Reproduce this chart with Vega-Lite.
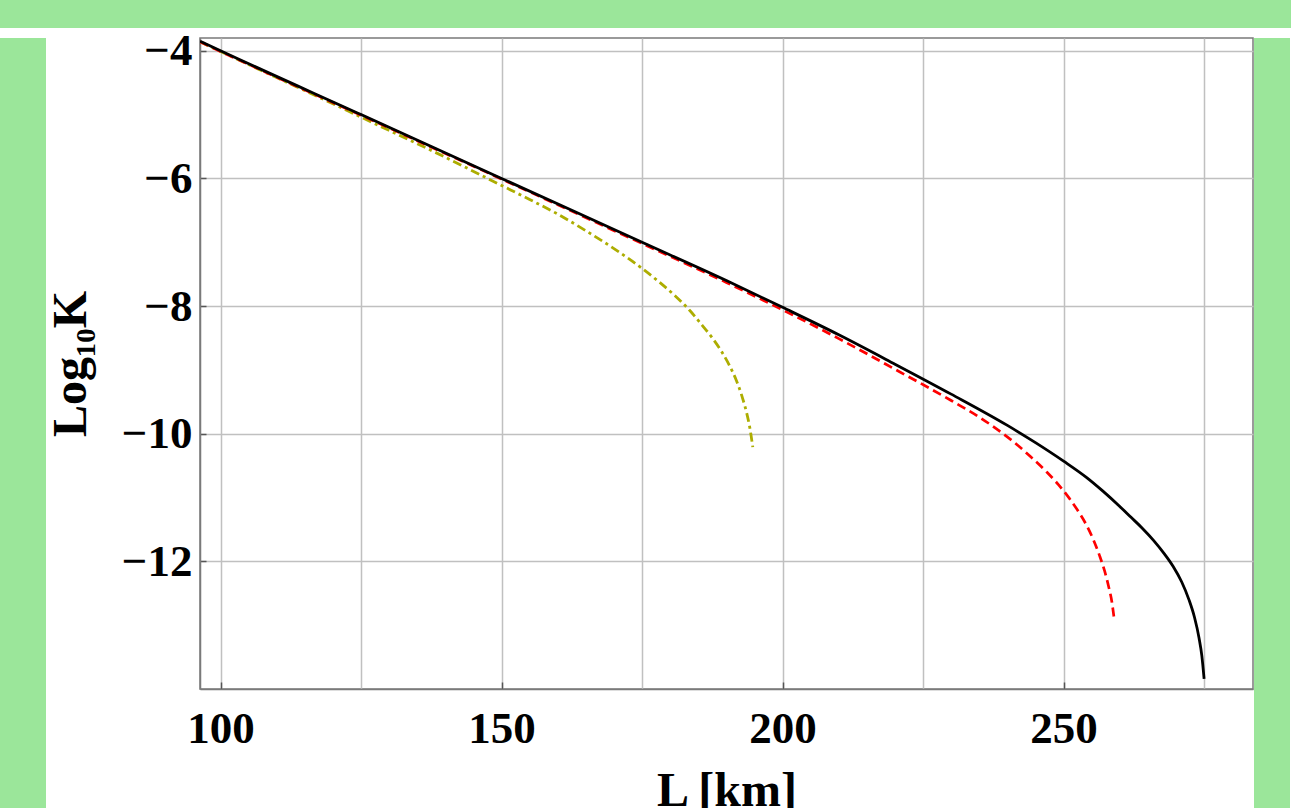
{
  "$schema": "https://vega.github.io/schema/vega-lite/v6.json",
  "background": "white",
  "padding": 0,
  "spacing": 0,
  "config": {
    "axis": {
      "labelFont": "Liberation Serif",
      "labelFontWeight": "bold",
      "labelFontSize": 45,
      "labelColor": "black",
      "titleFont": "Liberation Serif",
      "titleFontWeight": "bold",
      "titleFontSize": 48,
      "titleColor": "black",
      "tickColor": "#555555",
      "tickWidth": 1.5,
      "gridColor": "#c0c0c0",
      "gridWidth": 1.5,
      "domainColor": "#7a7a7a",
      "domainWidth": 1.5,
      "labelOverlap": false
    }
  },
  "data": {
    "values": [
      {"curve": "black", "L": 96.35, "logK": -3.85},
      {"curve": "black", "L": 100, "logK": -4.0},
      {"curve": "black", "L": 125, "logK": -5.0},
      {"curve": "black", "L": 150, "logK": -6.0},
      {"curve": "black", "L": 175, "logK": -7.0},
      {"curve": "black", "L": 190, "logK": -7.6},
      {"curve": "black", "L": 200, "logK": -8.02},
      {"curve": "black", "L": 210, "logK": -8.45},
      {"curve": "black", "L": 220, "logK": -8.91},
      {"curve": "black", "L": 230, "logK": -9.38},
      {"curve": "black", "L": 240, "logK": -9.87},
      {"curve": "black", "L": 245, "logK": -10.14},
      {"curve": "black", "L": 250, "logK": -10.43},
      {"curve": "black", "L": 254, "logK": -10.68},
      {"curve": "black", "L": 257, "logK": -10.9},
      {"curve": "black", "L": 260, "logK": -11.14},
      {"curve": "black", "L": 262, "logK": -11.31},
      {"curve": "black", "L": 264, "logK": -11.48},
      {"curve": "black", "L": 266, "logK": -11.67},
      {"curve": "black", "L": 268, "logK": -11.89},
      {"curve": "black", "L": 269.5, "logK": -12.08},
      {"curve": "black", "L": 271, "logK": -12.32},
      {"curve": "black", "L": 272.3, "logK": -12.6},
      {"curve": "black", "L": 273.3, "logK": -12.88},
      {"curve": "black", "L": 274.1, "logK": -13.2},
      {"curve": "black", "L": 274.6, "logK": -13.48},
      {"curve": "black", "L": 275.0, "logK": -13.84},
      {"curve": "red", "L": 96.35, "logK": -3.86},
      {"curve": "red", "L": 100, "logK": -4.01},
      {"curve": "red", "L": 125, "logK": -5.01},
      {"curve": "red", "L": 150, "logK": -6.01},
      {"curve": "red", "L": 175, "logK": -7.02},
      {"curve": "red", "L": 190, "logK": -7.63},
      {"curve": "red", "L": 200, "logK": -8.06},
      {"curve": "red", "L": 210, "logK": -8.51},
      {"curve": "red", "L": 220, "logK": -8.99},
      {"curve": "red", "L": 230, "logK": -9.48},
      {"curve": "red", "L": 235, "logK": -9.74},
      {"curve": "red", "L": 238, "logK": -9.92},
      {"curve": "red", "L": 241, "logK": -10.12},
      {"curve": "red", "L": 244, "logK": -10.35},
      {"curve": "red", "L": 247, "logK": -10.6},
      {"curve": "red", "L": 249, "logK": -10.79},
      {"curve": "red", "L": 251, "logK": -11.01},
      {"curve": "red", "L": 252.5, "logK": -11.2},
      {"curve": "red", "L": 254, "logK": -11.42},
      {"curve": "red", "L": 255.3, "logK": -11.66},
      {"curve": "red", "L": 256.4, "logK": -11.91},
      {"curve": "red", "L": 257.3, "logK": -12.15},
      {"curve": "red", "L": 258.0, "logK": -12.39},
      {"curve": "red", "L": 258.6, "logK": -12.64},
      {"curve": "red", "L": 259.0, "logK": -12.9},
      {"curve": "olive", "L": 96.35, "logK": -3.86},
      {"curve": "olive", "L": 100, "logK": -4.01},
      {"curve": "olive", "L": 110, "logK": -4.42},
      {"curve": "olive", "L": 120, "logK": -4.83},
      {"curve": "olive", "L": 125, "logK": -5.04},
      {"curve": "olive", "L": 137.7, "logK": -5.57},
      {"curve": "olive", "L": 150, "logK": -6.11},
      {"curve": "olive", "L": 155, "logK": -6.33},
      {"curve": "olive", "L": 160, "logK": -6.56},
      {"curve": "olive", "L": 165, "logK": -6.82},
      {"curve": "olive", "L": 170, "logK": -7.1},
      {"curve": "olive", "L": 175, "logK": -7.41},
      {"curve": "olive", "L": 178, "logK": -7.62},
      {"curve": "olive", "L": 181, "logK": -7.85},
      {"curve": "olive", "L": 183.5, "logK": -8.07},
      {"curve": "olive", "L": 185.5, "logK": -8.28},
      {"curve": "olive", "L": 187.5, "logK": -8.5},
      {"curve": "olive", "L": 189.2, "logK": -8.72},
      {"curve": "olive", "L": 190.6, "logK": -8.94},
      {"curve": "olive", "L": 191.8, "logK": -9.17},
      {"curve": "olive", "L": 192.8, "logK": -9.42},
      {"curve": "olive", "L": 193.6, "logK": -9.67},
      {"curve": "olive", "L": 194.2, "logK": -9.92},
      {"curve": "olive", "L": 194.7, "logK": -10.21}
    ]
  },
  "vconcat": [
    {
      "width": 1291,
      "height": 28,
      "data": {"values": []},
      "mark": "point",
      "view": {"fill": "#9be69a", "stroke": null}
    },
    {
      "spacing": 0,
      "hconcat": [
        {
          "width": 46,
          "height": 780,
          "data": {"values": []},
          "mark": "point",
          "view": {"fill": "#9be69a", "stroke": null}
        },
        {
          "width": 1053,
          "height": 651,
          "view": {"stroke": "#7a7a7a", "strokeWidth": 1.5, "fill": "white"},
          "encoding": {
            "x": {
              "field": "L",
              "type": "quantitative",
              "scale": {"domain": [96.35, 283.7], "nice": false, "zero": false},
              "axis": {
                "title": "L [km]",
                "values": [100, 125, 150, 175, 200, 225, 250, 275],
                "labelExpr": "datum.value % 50 === 0 ? datum.label : ''",
                "tickOpacity": {"condition": {"test": "datum.value % 50 === 0", "value": 1}, "value": 0},
                "tickSize": -7,
                "labelPadding": 24,
                "titlePadding": 16
              }
            },
            "y": {
              "field": "logK",
              "type": "quantitative",
              "scale": {"domain": [-14.0, -3.8], "nice": false, "zero": false},
              "axis": {
                "title": "Log₁₀K",
                "values": [-12, -10, -8, -6, -4],
                "tickSize": -6,
                "labelPadding": 14,
                "titlePadding": 26
              }
            }
          },
          "layer": [
            {
              "transform": [{"filter": "datum.curve === 'olive'"}],
              "mark": {"type": "line", "color": "#adad00", "strokeWidth": 2.8, "strokeDash": [9, 4, 3, 4], "interpolate": "monotone", "clip": true}
            },
            {
              "transform": [{"filter": "datum.curve === 'red'"}],
              "mark": {"type": "line", "color": "#ff0000", "strokeWidth": 2.7, "strokeDash": [9, 5], "interpolate": "monotone", "clip": true}
            },
            {
              "transform": [{"filter": "datum.curve === 'black'"}],
              "mark": {"type": "line", "color": "#000000", "strokeWidth": 2.8, "interpolate": "monotone", "clip": true}
            }
          ]
        },
        {
          "width": 36,
          "height": 780,
          "data": {"values": []},
          "mark": "point",
          "view": {"fill": "#9be69a", "stroke": null}
        }
      ]
    }
  ]
}
